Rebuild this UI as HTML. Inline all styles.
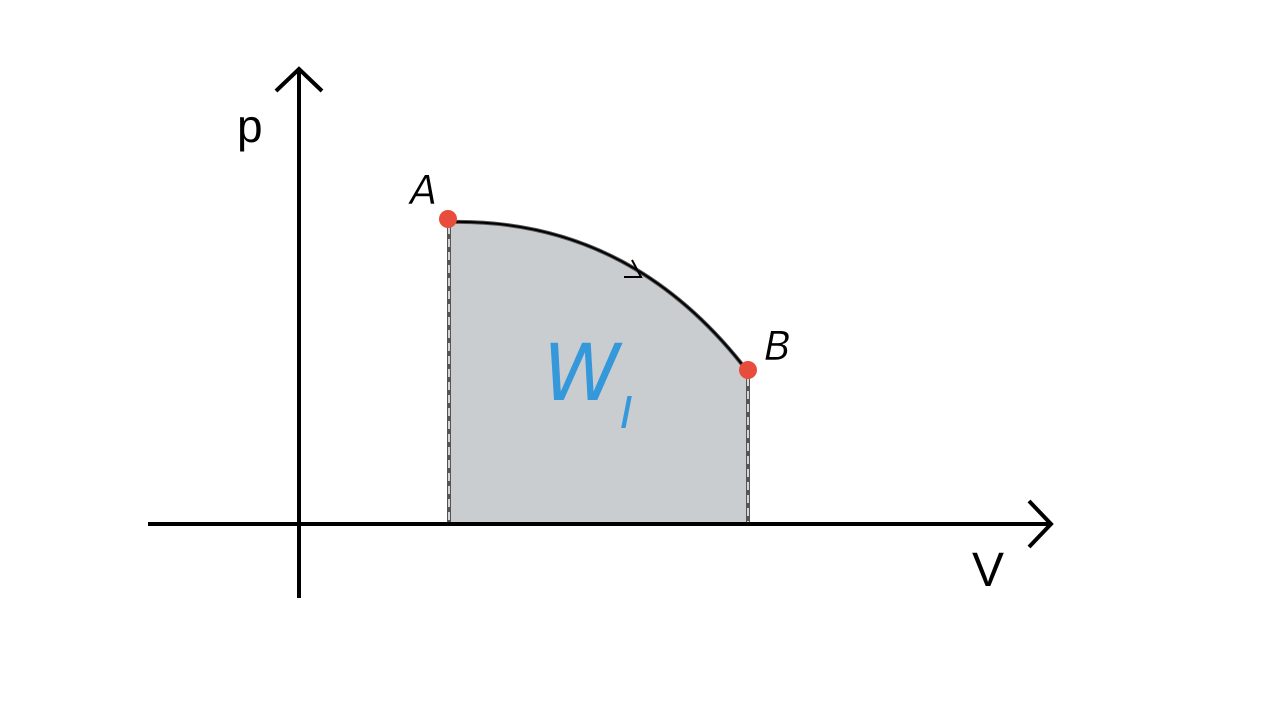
<!DOCTYPE html>
<html><head><style>html,body{margin:0;padding:0;background:#fff;width:1280px;height:720px;overflow:hidden}</style></head>
<body>
<svg width="1280" height="720" xmlns="http://www.w3.org/2000/svg">
<path d="M449,222 Q630,218 748,372 L748,524 L449,524 Z" fill="#c9cdd0" stroke="#555" stroke-width="4"/>
<line x1="449" y1="226" x2="449" y2="522" stroke="#fff" stroke-width="1.5" stroke-dasharray="8,5"/>
<line x1="748" y1="378" x2="748" y2="522" stroke="#fff" stroke-width="1.5" stroke-dasharray="8,5"/>
<path d="M449,222 Q630,218 748,372" fill="none" stroke="#000" stroke-width="2"/>
<path d="M632,260 L641,277 L624,277" fill="none" stroke="#000" stroke-width="2"/>
<line x1="148" y1="524" x2="1048" y2="524" stroke="#000" stroke-width="4"/>
<path d="M1029,501 L1051,524 L1029,547" fill="none" stroke="#000" stroke-width="4"/>
<line x1="299" y1="70" x2="299" y2="598" stroke="#000" stroke-width="4"/>
<path d="M276,91 L299,69 L322,91" fill="none" stroke="#000" stroke-width="4"/>
<circle cx="448" cy="219" r="9" fill="#e74c3c"/>
<circle cx="748" cy="370" r="9" fill="#e74c3c"/>
<g font-family="DejaVu Sans, Liberation Sans, sans-serif">
<text x="237" y="142" font-size="46" font-family="Liberation Sans, sans-serif">p</text>
<text x="972" y="586" font-size="48" font-family="Liberation Sans, sans-serif">V</text>
<text x="410" y="204" font-size="40" font-style="italic" stroke="#fff" stroke-width="0.6">A</text>
<text x="764" y="360" font-size="40" font-style="italic" stroke="#fff" stroke-width="0.6">B</text>
<text x="543" y="400" font-size="78" font-style="italic" fill="#3498db">W</text>
<text x="620" y="428" font-size="44" font-style="italic" fill="#3498db">I</text>
</g>
</svg>
</body></html>
